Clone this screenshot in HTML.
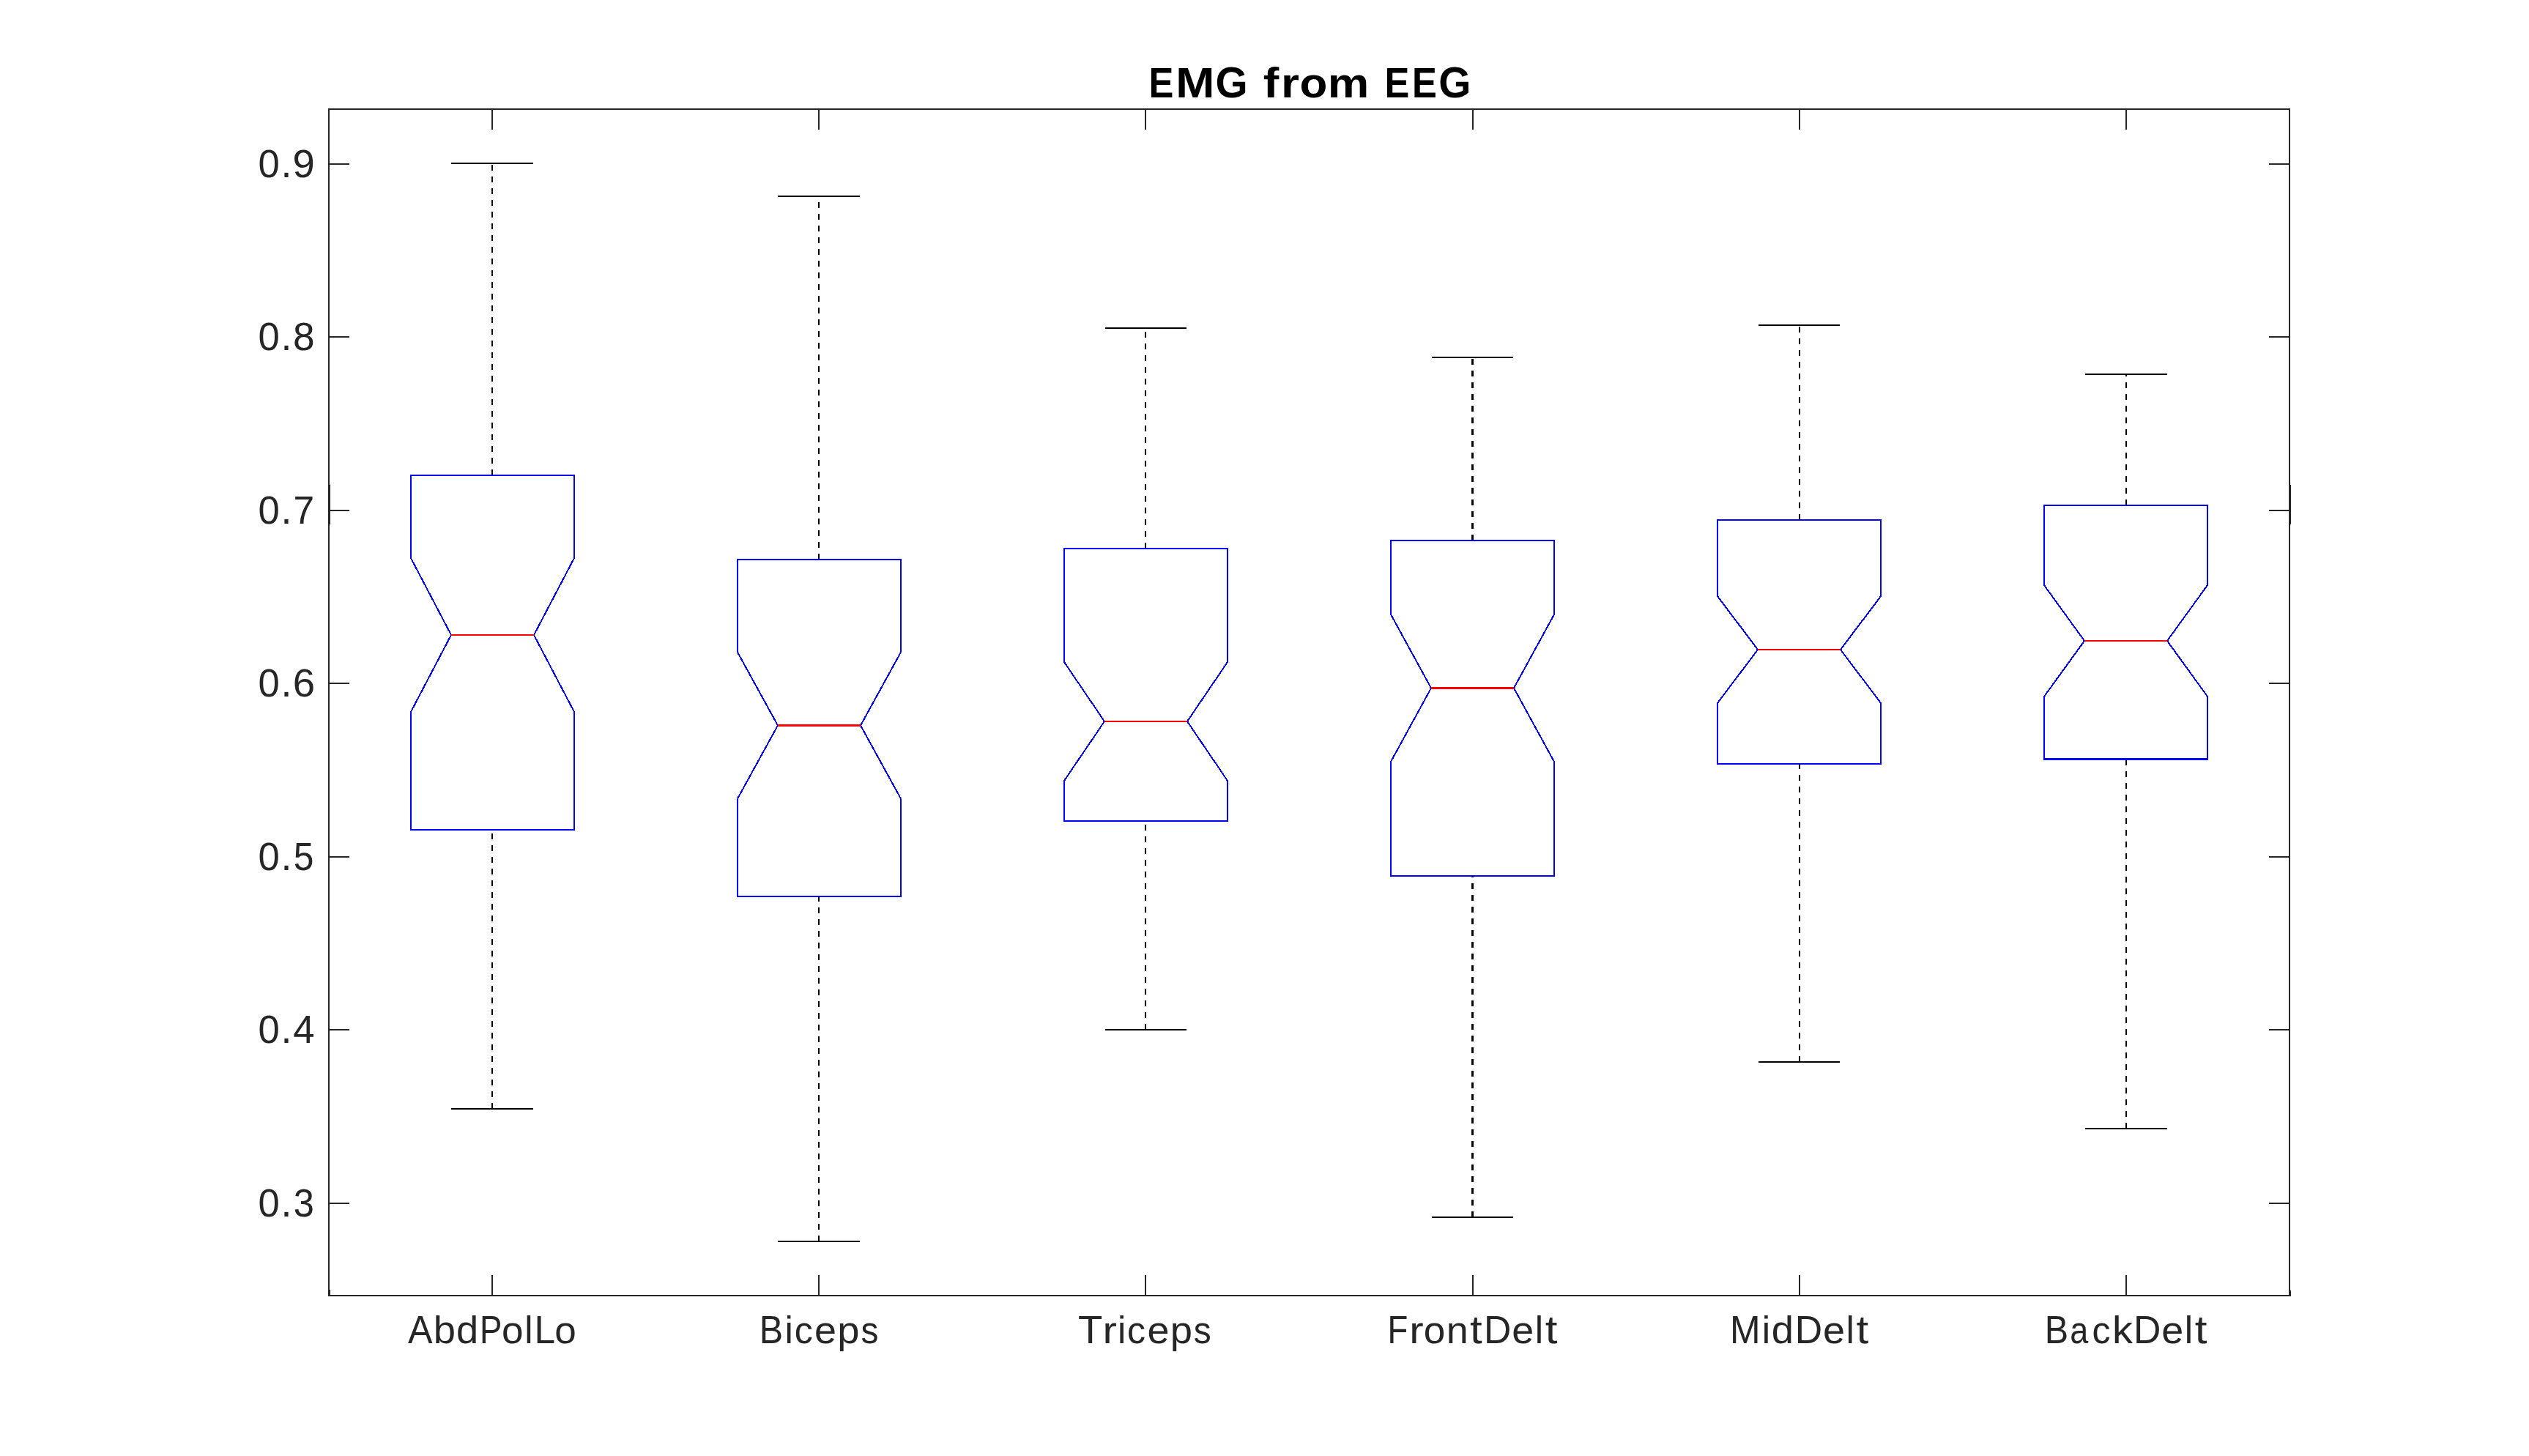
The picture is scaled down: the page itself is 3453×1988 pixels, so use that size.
<!DOCTYPE html>
<html><head><meta charset="utf-8"><style>
html,body{margin:0;padding:0;background:#fff;}
body{width:3453px;height:1988px;overflow:hidden;}
svg{display:block;}
text{font-family:"Liberation Sans",sans-serif;}
</style></head><body>
<svg width="3453" height="1988" viewBox="0 0 3453 1988">
<rect width="3453" height="1988" fill="#fff"/>
<rect x="448" y="148" width="2679" height="2" fill="#262626"/>
<rect x="448" y="1768" width="2679" height="2" fill="#262626"/>
<rect x="448" y="148" width="2" height="1622" fill="#262626"/>
<rect x="3125" y="148" width="2" height="1622" fill="#262626"/>
<rect x="450" y="662" width="1" height="54" fill="#262626"/>
<rect x="3127" y="662" width="1" height="54" fill="#262626"/>
<rect x="3127" y="1762" width="1" height="8" fill="#262626"/>
<rect x="450" y="1761" width="1" height="8" fill="#262626"/>
<rect x="450" y="223" width="27" height="2" fill="#262626"/>
<rect x="3098" y="223" width="27" height="2" fill="#262626"/>
<rect x="450" y="459" width="27" height="2" fill="#262626"/>
<rect x="3098" y="459" width="27" height="2" fill="#262626"/>
<rect x="450" y="696" width="27" height="2" fill="#262626"/>
<rect x="3098" y="696" width="27" height="2" fill="#262626"/>
<rect x="450" y="932" width="27" height="2" fill="#262626"/>
<rect x="3098" y="932" width="27" height="2" fill="#262626"/>
<rect x="450" y="1169" width="27" height="2" fill="#262626"/>
<rect x="3098" y="1169" width="27" height="2" fill="#262626"/>
<rect x="450" y="1405" width="27" height="2" fill="#262626"/>
<rect x="3098" y="1405" width="27" height="2" fill="#262626"/>
<rect x="450" y="1642" width="27" height="2" fill="#262626"/>
<rect x="3098" y="1642" width="27" height="2" fill="#262626"/>
<rect x="671" y="150" width="2" height="27" fill="#262626"/>
<rect x="671" y="1741" width="2" height="27" fill="#262626"/>
<rect x="1117" y="150" width="2" height="27" fill="#262626"/>
<rect x="1117" y="1741" width="2" height="27" fill="#262626"/>
<rect x="1563" y="150" width="2" height="27" fill="#262626"/>
<rect x="1563" y="1741" width="2" height="27" fill="#262626"/>
<rect x="2010" y="150" width="2" height="27" fill="#262626"/>
<rect x="2010" y="1741" width="2" height="27" fill="#262626"/>
<rect x="2456" y="150" width="2" height="27" fill="#262626"/>
<rect x="2456" y="1741" width="2" height="27" fill="#262626"/>
<rect x="2902" y="150" width="2" height="27" fill="#262626"/>
<rect x="2902" y="1741" width="2" height="27" fill="#262626"/>
<line x1="672" y1="649" x2="672" y2="223" stroke="#000" stroke-width="2" stroke-dasharray="8 8"/>
<line x1="672" y1="1514" x2="672" y2="1133" stroke="#000" stroke-width="2" stroke-dasharray="8 8"/>
<rect x="616" y="222" width="112" height="2" fill="#000"/>
<rect x="616" y="1513" width="112" height="2" fill="#000"/>
<path d="M561,762L616.0,867M616.0,867L561,972M784,762L729.0,867M729.0,867L784,972" stroke="#0000ff" stroke-width="2" fill="none" shape-rendering="crispEdges"/>
<rect x="560" y="648" width="2" height="114" fill="#0000ff"/>
<rect x="560" y="972" width="2" height="162" fill="#0000ff"/>
<rect x="783" y="648" width="2" height="114" fill="#0000ff"/>
<rect x="783" y="972" width="2" height="162" fill="#0000ff"/>
<rect x="560" y="648.0" width="225" height="2" fill="#0000ff"/>
<rect x="560" y="1132.0" width="225" height="2" fill="#0000ff"/>
<rect x="616.0" y="866.0" width="113.0" height="2" fill="#ff0000"/>
<line x1="1118" y1="764" x2="1118" y2="268" stroke="#000" stroke-width="2" stroke-dasharray="8 8"/>
<line x1="1118" y1="1695" x2="1118" y2="1224" stroke="#000" stroke-width="2" stroke-dasharray="8 8"/>
<rect x="1062" y="267" width="112" height="2" fill="#000"/>
<rect x="1062" y="1694" width="112" height="2" fill="#000"/>
<path d="M1007,890.5L1062.0,990.5M1062.0,990.5L1007,1090.5M1230,890.5L1175.0,990.5M1175.0,990.5L1230,1090.5" stroke="#0000ff" stroke-width="2" fill="none" shape-rendering="crispEdges"/>
<rect x="1006" y="763" width="2" height="127.5" fill="#0000ff"/>
<rect x="1006" y="1090.5" width="2" height="134.5" fill="#0000ff"/>
<rect x="1229" y="763" width="2" height="127.5" fill="#0000ff"/>
<rect x="1229" y="1090.5" width="2" height="134.5" fill="#0000ff"/>
<rect x="1006" y="763.0" width="225" height="2" fill="#0000ff"/>
<rect x="1006" y="1223.0" width="225" height="2" fill="#0000ff"/>
<rect x="1062.0" y="989.0" width="113.0" height="3" fill="#ff0000"/>
<line x1="1564" y1="749" x2="1564" y2="448" stroke="#000" stroke-width="2" stroke-dasharray="8 8"/>
<line x1="1564" y1="1406" x2="1564" y2="1121" stroke="#000" stroke-width="2" stroke-dasharray="8 8"/>
<rect x="1509" y="447" width="111" height="2" fill="#000"/>
<rect x="1509" y="1405" width="111" height="2" fill="#000"/>
<path d="M1453,904L1508.0,985M1508.0,985L1453,1066M1676,904L1621.0,985M1621.0,985L1676,1066" stroke="#0000ff" stroke-width="2" fill="none" shape-rendering="crispEdges"/>
<rect x="1452" y="748" width="2" height="156" fill="#0000ff"/>
<rect x="1452" y="1066" width="2" height="56" fill="#0000ff"/>
<rect x="1675" y="748" width="2" height="156" fill="#0000ff"/>
<rect x="1675" y="1066" width="2" height="56" fill="#0000ff"/>
<rect x="1452" y="748.0" width="225" height="2" fill="#0000ff"/>
<rect x="1452" y="1120.0" width="225" height="2" fill="#0000ff"/>
<rect x="1508.0" y="984.0" width="113.0" height="2" fill="#ff0000"/>
<line x1="2010.5" y1="738" x2="2010.5" y2="488" stroke="#000" stroke-width="3" stroke-dasharray="8 8"/>
<line x1="2010.5" y1="1662" x2="2010.5" y2="1196" stroke="#000" stroke-width="3" stroke-dasharray="8 8"/>
<rect x="1955" y="487" width="111" height="2" fill="#000"/>
<rect x="1955" y="1661" width="111" height="2" fill="#000"/>
<path d="M1899,839L1954.0,939.5M1954.0,939.5L1899,1040M2122,839L2067.0,939.5M2067.0,939.5L2122,1040" stroke="#0000ff" stroke-width="2" fill="none" shape-rendering="crispEdges"/>
<rect x="1898" y="737" width="2" height="102" fill="#0000ff"/>
<rect x="1898" y="1040" width="2" height="157" fill="#0000ff"/>
<rect x="2121" y="737" width="2" height="102" fill="#0000ff"/>
<rect x="2121" y="1040" width="2" height="157" fill="#0000ff"/>
<rect x="1898" y="737.0" width="225" height="2" fill="#0000ff"/>
<rect x="1898" y="1195.0" width="225" height="2" fill="#0000ff"/>
<rect x="1954.0" y="938.0" width="113.0" height="3" fill="#ff0000"/>
<line x1="2457" y1="710" x2="2457" y2="444" stroke="#000" stroke-width="2" stroke-dasharray="8 8"/>
<line x1="2457" y1="1450" x2="2457" y2="1043" stroke="#000" stroke-width="2" stroke-dasharray="8 8"/>
<rect x="2401" y="443" width="111" height="2" fill="#000"/>
<rect x="2401" y="1449" width="111" height="2" fill="#000"/>
<path d="M2345,814L2400.0,887M2400.0,887L2345,960M2568,814L2513.0,887M2513.0,887L2568,960" stroke="#0000ff" stroke-width="2" fill="none" shape-rendering="crispEdges"/>
<rect x="2344" y="709" width="2" height="105" fill="#0000ff"/>
<rect x="2344" y="960" width="2" height="84" fill="#0000ff"/>
<rect x="2567" y="709" width="2" height="105" fill="#0000ff"/>
<rect x="2567" y="960" width="2" height="84" fill="#0000ff"/>
<rect x="2344" y="709.0" width="225" height="2" fill="#0000ff"/>
<rect x="2344" y="1042.0" width="225" height="2" fill="#0000ff"/>
<rect x="2400.0" y="886.0" width="113.0" height="2" fill="#ff0000"/>
<line x1="2903" y1="690" x2="2903" y2="511" stroke="#000" stroke-width="2" stroke-dasharray="8 8"/>
<line x1="2903" y1="1541" x2="2903" y2="1036.5" stroke="#000" stroke-width="2" stroke-dasharray="8 8"/>
<rect x="2847" y="510" width="112" height="2" fill="#000"/>
<rect x="2847" y="1540" width="112" height="2" fill="#000"/>
<path d="M2791,799L2846.0,875M2846.0,875L2791,951M3014,799L2959.0,875M2959.0,875L3014,951" stroke="#0000ff" stroke-width="2" fill="none" shape-rendering="crispEdges"/>
<rect x="2790" y="689" width="2" height="110" fill="#0000ff"/>
<rect x="2790" y="951" width="2" height="86.5" fill="#0000ff"/>
<rect x="3013" y="689" width="2" height="110" fill="#0000ff"/>
<rect x="3013" y="951" width="2" height="86.5" fill="#0000ff"/>
<rect x="2790" y="689.0" width="225" height="2" fill="#0000ff"/>
<rect x="2790" y="1035.0" width="225" height="3" fill="#0000ff"/>
<rect x="2846.0" y="874.0" width="113.0" height="2" fill="#ff0000"/>
<g style="filter:grayscale(1)" font-family="'Liberation Sans', sans-serif" font-weight="normal" fill="#262626"><text x="556.91" y="1834.00" font-size="52.98" textLength="33.60" lengthAdjust="spacingAndGlyphs">A</text><text x="591.86" y="1834.19" font-size="52.69" textLength="30.25" lengthAdjust="spacingAndGlyphs">b</text><text x="623.04" y="1834.19" font-size="52.69" textLength="30.22" lengthAdjust="spacingAndGlyphs">d</text><text x="655.11" y="1834.00" font-size="52.98" textLength="30.39" lengthAdjust="spacingAndGlyphs">P</text><text x="684.98" y="1834.20" font-size="52.41" textLength="29.56" lengthAdjust="spacingAndGlyphs">o</text><text x="716.31" y="1834.00" font-size="52.43" textLength="11.36" lengthAdjust="spacingAndGlyphs">l</text><text x="729.62" y="1834.00" font-size="52.98" textLength="28.61" lengthAdjust="spacingAndGlyphs">L</text><text x="757.32" y="1834.20" font-size="52.41" textLength="29.56" lengthAdjust="spacingAndGlyphs">o</text></g>
<g style="filter:grayscale(1)" font-family="'Liberation Sans', sans-serif" font-weight="normal" fill="#262626"><text x="1036.81" y="1834.00" font-size="52.98" textLength="32.40" lengthAdjust="spacingAndGlyphs">B</text><text x="1071.48" y="1834.00" font-size="52.43" textLength="11.36" lengthAdjust="spacingAndGlyphs">i</text><text x="1084.70" y="1834.20" font-size="52.41" textLength="25.08" lengthAdjust="spacingAndGlyphs">c</text><text x="1112.03" y="1834.20" font-size="52.41" textLength="30.04" lengthAdjust="spacingAndGlyphs">e</text><text x="1143.36" y="1833.70" font-size="51.54" textLength="30.25" lengthAdjust="spacingAndGlyphs">p</text><text x="1175.44" y="1834.19" font-size="52.55" textLength="23.96" lengthAdjust="spacingAndGlyphs">s</text></g>
<g style="filter:grayscale(1)" font-family="'Liberation Sans', sans-serif" font-weight="normal" fill="#262626"><text x="1472.11" y="1834.00" font-size="52.98" textLength="33.31" lengthAdjust="spacingAndGlyphs">T</text><text x="1505.42" y="1834.00" font-size="52.04" textLength="19.41" lengthAdjust="spacingAndGlyphs">r</text><text x="1525.88" y="1834.00" font-size="52.43" textLength="11.36" lengthAdjust="spacingAndGlyphs">i</text><text x="1539.10" y="1834.20" font-size="52.41" textLength="25.08" lengthAdjust="spacingAndGlyphs">c</text><text x="1566.43" y="1834.20" font-size="52.41" textLength="30.04" lengthAdjust="spacingAndGlyphs">e</text><text x="1597.76" y="1833.70" font-size="51.54" textLength="30.25" lengthAdjust="spacingAndGlyphs">p</text><text x="1629.84" y="1834.19" font-size="52.55" textLength="23.96" lengthAdjust="spacingAndGlyphs">s</text></g>
<g style="filter:grayscale(1)" font-family="'Liberation Sans', sans-serif" font-weight="normal" fill="#262626"><text x="1894.53" y="1834.00" font-size="52.98" textLength="27.83" lengthAdjust="spacingAndGlyphs">F</text><text x="1924.17" y="1834.00" font-size="52.04" textLength="19.41" lengthAdjust="spacingAndGlyphs">r</text><text x="1943.86" y="1834.20" font-size="52.41" textLength="29.56" lengthAdjust="spacingAndGlyphs">o</text><text x="1974.89" y="1834.00" font-size="52.04" textLength="29.98" lengthAdjust="spacingAndGlyphs">n</text><text x="2006.91" y="1833.58" font-size="53.66" textLength="16.70" lengthAdjust="spacingAndGlyphs">t</text><text x="2025.88" y="1834.00" font-size="52.98" textLength="37.36" lengthAdjust="spacingAndGlyphs">D</text><text x="2064.19" y="1834.20" font-size="52.41" textLength="30.04" lengthAdjust="spacingAndGlyphs">e</text><text x="2095.75" y="1834.00" font-size="52.43" textLength="11.36" lengthAdjust="spacingAndGlyphs">l</text><text x="2109.67" y="1833.58" font-size="53.66" textLength="16.70" lengthAdjust="spacingAndGlyphs">t</text></g>
<g style="filter:grayscale(1)" font-family="'Liberation Sans', sans-serif" font-weight="normal" fill="#262626"><text x="2362.05" y="1834.00" font-size="52.98" textLength="41.53" lengthAdjust="spacingAndGlyphs">M</text><text x="2405.67" y="1834.00" font-size="52.43" textLength="11.36" lengthAdjust="spacingAndGlyphs">i</text><text x="2418.74" y="1834.19" font-size="52.69" textLength="30.22" lengthAdjust="spacingAndGlyphs">d</text><text x="2450.67" y="1834.00" font-size="52.98" textLength="37.36" lengthAdjust="spacingAndGlyphs">D</text><text x="2488.97" y="1834.20" font-size="52.41" textLength="30.04" lengthAdjust="spacingAndGlyphs">e</text><text x="2520.54" y="1834.00" font-size="52.43" textLength="11.36" lengthAdjust="spacingAndGlyphs">l</text><text x="2534.45" y="1833.58" font-size="53.66" textLength="16.70" lengthAdjust="spacingAndGlyphs">t</text></g>
<g style="filter:grayscale(1)" font-family="'Liberation Sans', sans-serif" font-weight="normal" fill="#262626"><text x="2791.85" y="1834.00" font-size="52.98" textLength="32.40" lengthAdjust="spacingAndGlyphs">B</text><text x="2826.29" y="1834.20" font-size="52.41" textLength="25.07" lengthAdjust="spacingAndGlyphs">a</text><text x="2856.50" y="1834.20" font-size="52.41" textLength="25.08" lengthAdjust="spacingAndGlyphs">c</text><text x="2884.13" y="1834.00" font-size="52.43" textLength="27.95" lengthAdjust="spacingAndGlyphs">k</text><text x="2912.98" y="1834.00" font-size="52.98" textLength="37.36" lengthAdjust="spacingAndGlyphs">D</text><text x="2951.28" y="1834.20" font-size="52.41" textLength="30.04" lengthAdjust="spacingAndGlyphs">e</text><text x="2982.84" y="1834.00" font-size="52.43" textLength="11.36" lengthAdjust="spacingAndGlyphs">l</text><text x="2996.76" y="1833.58" font-size="53.66" textLength="16.70" lengthAdjust="spacingAndGlyphs">t</text></g>
<g style="filter:grayscale(1)" font-family="'Liberation Sans', sans-serif" font-weight="normal" fill="#262626"><text x="352.52" y="241.99" font-size="53.41" textLength="29.31" lengthAdjust="spacingAndGlyphs">0</text><text x="383.50" y="241.80" font-size="57.99" textLength="15.03" lengthAdjust="spacingAndGlyphs">.</text><text x="399.59" y="241.99" font-size="53.41" textLength="30.28" lengthAdjust="spacingAndGlyphs">9</text></g>
<g style="filter:grayscale(1)" font-family="'Liberation Sans', sans-serif" font-weight="normal" fill="#262626"><text x="352.52" y="477.99" font-size="53.41" textLength="29.31" lengthAdjust="spacingAndGlyphs">0</text><text x="383.50" y="477.80" font-size="57.99" textLength="15.03" lengthAdjust="spacingAndGlyphs">.</text><text x="400.07" y="477.99" font-size="53.41" textLength="29.63" lengthAdjust="spacingAndGlyphs">8</text></g>
<g style="filter:grayscale(1)" font-family="'Liberation Sans', sans-serif" font-weight="normal" fill="#262626"><text x="352.52" y="714.99" font-size="53.41" textLength="29.31" lengthAdjust="spacingAndGlyphs">0</text><text x="383.50" y="714.80" font-size="57.99" textLength="15.03" lengthAdjust="spacingAndGlyphs">.</text><text x="400.45" y="714.80" font-size="52.98" textLength="28.67" lengthAdjust="spacingAndGlyphs">7</text></g>
<g style="filter:grayscale(1)" font-family="'Liberation Sans', sans-serif" font-weight="normal" fill="#262626"><text x="352.52" y="950.99" font-size="53.41" textLength="29.31" lengthAdjust="spacingAndGlyphs">0</text><text x="383.50" y="950.80" font-size="57.99" textLength="15.03" lengthAdjust="spacingAndGlyphs">.</text><text x="399.71" y="950.99" font-size="53.41" textLength="30.34" lengthAdjust="spacingAndGlyphs">6</text></g>
<g style="filter:grayscale(1)" font-family="'Liberation Sans', sans-serif" font-weight="normal" fill="#262626"><text x="352.52" y="1187.99" font-size="53.41" textLength="29.31" lengthAdjust="spacingAndGlyphs">0</text><text x="383.50" y="1187.80" font-size="57.99" textLength="15.03" lengthAdjust="spacingAndGlyphs">.</text><text x="400.85" y="1187.99" font-size="53.25" textLength="27.66" lengthAdjust="spacingAndGlyphs">5</text></g>
<g style="filter:grayscale(1)" font-family="'Liberation Sans', sans-serif" font-weight="normal" fill="#262626"><text x="352.52" y="1423.99" font-size="53.41" textLength="29.31" lengthAdjust="spacingAndGlyphs">0</text><text x="383.50" y="1423.80" font-size="57.99" textLength="15.03" lengthAdjust="spacingAndGlyphs">.</text><text x="400.22" y="1423.80" font-size="52.98" textLength="29.32" lengthAdjust="spacingAndGlyphs">4</text></g>
<g style="filter:grayscale(1)" font-family="'Liberation Sans', sans-serif" font-weight="normal" fill="#262626"><text x="352.52" y="1660.99" font-size="53.41" textLength="29.31" lengthAdjust="spacingAndGlyphs">0</text><text x="383.50" y="1660.80" font-size="57.99" textLength="15.03" lengthAdjust="spacingAndGlyphs">.</text><text x="400.87" y="1660.99" font-size="53.41" textLength="28.15" lengthAdjust="spacingAndGlyphs">3</text></g>
<g style="filter:grayscale(1)" font-family="'Liberation Sans', sans-serif" font-weight="bold" fill="#000"><text x="1568.56" y="133.00" font-size="58.28" textLength="33.87" lengthAdjust="spacingAndGlyphs">E</text><text x="1605.26" y="133.00" font-size="58.28" textLength="53.14" lengthAdjust="spacingAndGlyphs">M</text><text x="1659.62" y="133.21" font-size="58.76" textLength="44.20" lengthAdjust="spacingAndGlyphs">G</text><text x="1724.87" y="133.00" font-size="57.67" textLength="21.51" lengthAdjust="spacingAndGlyphs">f</text><text x="1749.14" y="133.00" font-size="57.19" textLength="24.93" lengthAdjust="spacingAndGlyphs">r</text><text x="1774.50" y="133.22" font-size="57.65" textLength="37.91" lengthAdjust="spacingAndGlyphs">o</text><text x="1812.72" y="133.00" font-size="57.19" textLength="56.53" lengthAdjust="spacingAndGlyphs">m</text><text x="1890.45" y="133.00" font-size="58.28" textLength="33.87" lengthAdjust="spacingAndGlyphs">E</text><text x="1928.02" y="133.00" font-size="58.28" textLength="33.87" lengthAdjust="spacingAndGlyphs">E</text><text x="1964.35" y="133.21" font-size="58.76" textLength="44.20" lengthAdjust="spacingAndGlyphs">G</text></g>
</svg>
</body></html>
